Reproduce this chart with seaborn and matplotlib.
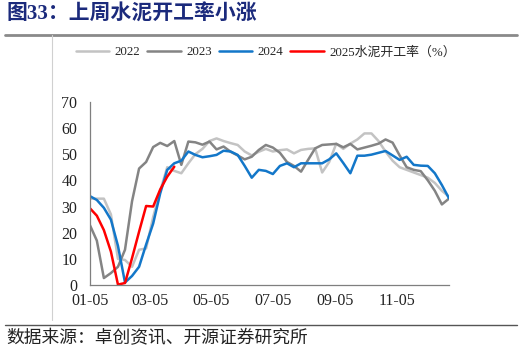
import numpy as np
import pandas as pd
import matplotlib.pyplot as plt
import matplotlib.dates as mdates
import seaborn as sns

# weekly cement operating rate (%), first week = 01-05
rate_2022 = [33, 33, 33, 27, 10, 9.6, 7, 13.5, 14, 26, 36, 45, 43.6, 42.7, 46.5, 50, 52, 55, 56, 55,
             54.2, 53.5, 51, 49.5, 50.9, 52, 51, 51.5, 51.8, 50.3, 51.6, 52, 52.2, 43, 47, 54, 52, 54,
             55.6, 57.9, 57.9, 55, 51, 47.5, 45, 44, 43, 42, 41, 39, 36, 33.8]
rate_2023 = [23, 17, 2.7, 4.6, 7, 13.5, 32, 44.5, 47, 52.7, 54.3, 53.1, 55, 45.9, 54.8, 54.5, 53.6,
             54.8, 51.8, 52.9, 50.9, 49.5, 48, 49, 51.6, 53.5, 52.5, 50.5, 47, 45.5, 43.3, 47.8, 52.2,
             53.5, 53.7, 53.9, 52.6, 53.9, 51.8, 52.5, 53.2, 54, 55.6, 54.4, 49.5, 45, 44, 43.5, 40,
             36, 30.8, 33]
rate_2024 = [34, 32.5, 29.5, 25, 15, 1, 3.5, 7, 15.5, 23.5, 35, 44, 46.5, 47.5, 51, 49.7, 48.8, 49.2,
             49.7, 51.3, 51, 49.7, 45.5, 41, 44, 43.6, 42.4, 45.5, 46.5, 45, 46.5, 46.5, 46.5, 46.5,
             48, 50.3, 46.6, 42.7, 49.4, 49.4, 49.8, 50.5, 51.2, 49.5, 47.8, 49, 45.9, 45.6, 45.5,
             42.7, 38.2, 33.2]
rate_2025 = [29.4, 26.5, 21, 12.8, 0.2, 0.8, 10.3, 20.4, 30.2, 30, 36.5, 41.4, 45.2]

series_names = ["2022", "2023", "2024", "2025水泥开工率（%）"]
series_colors = ["#c3c3c3", "#848484", "#1377c9", "#ff0000"]
tick_dates = ["2024-01-05", "2024-03-05", "2024-05-05", "2024-07-05", "2024-09-05", "2024-11-05"]

dates = pd.date_range("2024-01-05", periods=len(rate_2022), freq="7D")
frames = []
for name, vals in zip(series_names, [rate_2022, rate_2023, rate_2024, rate_2025]):
    frames.append(pd.DataFrame({"date": dates[:len(vals)], "value": vals, "series": name}))
df = pd.concat(frames, ignore_index=True)

sns.set_style("white")
plt.rcParams["font.family"] = ["Liberation Serif", "Noto Sans CJK SC"]

fig = plt.figure(figsize=(5.22, 3.52), dpi=100)
ax = fig.add_axes([0.172, 0.19, 0.688, 0.521])

sns.lineplot(data=df, x="date", y="value", hue="series", palette=series_colors,
             linewidth=1.8, ax=ax, legend=True)

ax.set_ylim(0, 70)
ax.set_yticks(range(0, 71, 10))
ax.set_xlim(dates[0], dates[-1])
ax.set_xticks(pd.to_datetime(tick_dates))
ax.xaxis.set_major_formatter(mdates.DateFormatter("%m-%d"))
ax.set_xlabel("")
ax.set_ylabel("")
ax.tick_params(direction="in", length=4, width=0.8, color="#7f7f7f", labelsize=11.5,
               labelcolor="#222222")
ax.tick_params(axis="y", pad=9)
ax.tick_params(axis="x", pad=6)
for s in ["top", "right"]:
    ax.spines[s].set_visible(False)
for s in ["left", "bottom"]:
    ax.spines[s].set_color("#7f7f7f")
    ax.spines[s].set_linewidth(0.9)

ax.legend(loc="center", bbox_to_anchor=(0.49, 1.27), ncol=4, frameon=False,
          fontsize=9.3, handlelength=2.6, handletextpad=0.4, columnspacing=0.55,
          borderaxespad=0)

# title, rules and source note
fig.text(0.012, 0.958, "图33：上周水泥开工率小涨", fontsize=15, fontweight="bold",
         color="#1b2a7c", ha="left", va="center",
         family=["Liberation Serif", "Noto Sans CJK SC"])
fig.add_artist(plt.Line2D([0.01, 0.99], [0.9, 0.9], color="#8a8a8a", linewidth=2))
fig.add_artist(plt.Line2D([0.01, 0.99], [0.077, 0.077], color="#555555", linewidth=1))
fig.add_artist(plt.Line2D([0.1, 0.1], [0.09, 0.9], color="#d0d0d0", linewidth=0.8))
fig.text(0.012, 0.04, "数据来源：卓创资讯、开源证券研究所", fontsize=12.8, color="#222222",
         ha="left", va="center", family=["Noto Sans CJK SC"])

fig.savefig("out.png", dpi=100)
